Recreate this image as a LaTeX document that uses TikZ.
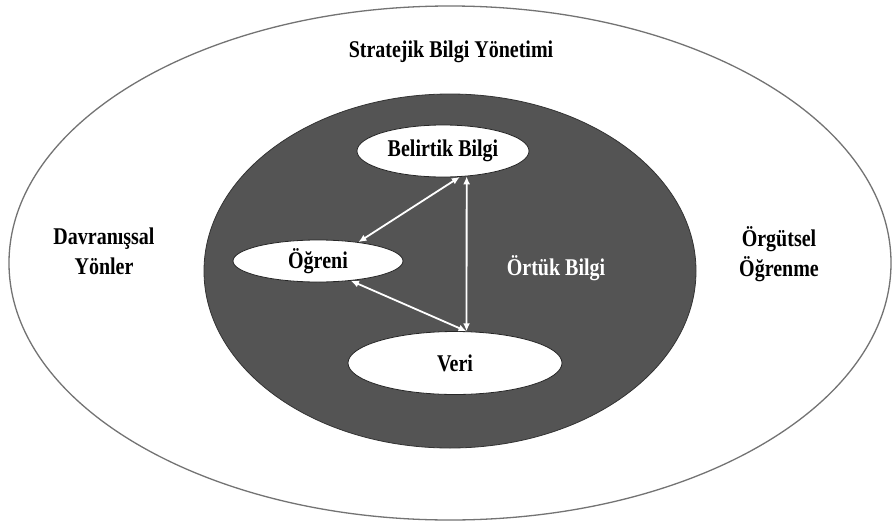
\documentclass[tikz,border=0pt]{standalone}
\usepackage{fontspec}
\setmainfont{Liberation Serif}[BoldFont={Liberation Serif Bold}]
\usetikzlibrary{arrows.meta,shapes.geometric}
\newcommand{\tall}[1]{\scalebox{1}[1.2]{#1}}
\begin{document}
\begin{tikzpicture}[x=1pt,y=-1pt,>={Latex[length=8pt,width=7pt]},
    lbl/.style={font=\bfseries\fontsize{20}{30}\selectfont,align=center},
    blob/.style={ellipse,draw=black!85,line width=0.8pt,fill=white,inner sep=0pt,lbl},
    link/.style={<->,white,line width=1.8pt}]
  \useasboundingbox (0,0) rectangle (892,522);
  \fill[white] (0,0) rectangle (892,522);
  \draw[black!55,line width=1.3pt] (450,263) ellipse [x radius=441,y radius=257];
  \filldraw[fill=black!67,draw=black!80,line width=0.8pt] (450,271) ellipse [x radius=246,y radius=177];
  \node[lbl] (sbs) at (451,52) {\tall{Stratejik Bilgi Yönetimi}};
  \node[lbl] (dav) at (104,251) {\tall{Davranışsal}\\\tall{Yönler}};
  \node[lbl] (org) at (779,254) {\tall{Örgütsel}\\\tall{Öğrenme}};
  \node[lbl,white] (ort) at (556,268) {\tall{Örtük Bilgi}};
  \node[blob,minimum width=172,minimum height=52] (bel) at (443,151) {\tall{Belirtik Bilgi}};
  \node[blob,minimum width=170,minimum height=42] (ogr) at (318,261) {\tall{Öğreni}};
  \node[blob,minimum width=214,minimum height=63] (veri) at (455,363) {\tall{Veri}};
  \draw[link] (bel.-57) -- (ogr.25);
  \draw[link] (bel.-47) -- (veri.70);
  \draw[link] (ogr.-31) -- (veri.70);
\end{tikzpicture}
\end{document}
